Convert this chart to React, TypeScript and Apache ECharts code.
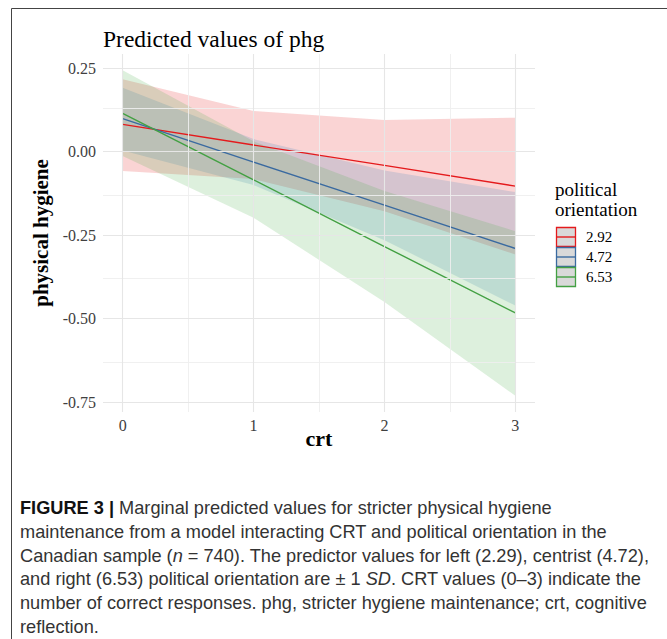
import React, { useEffect, useRef } from "react";
import * as echarts from "echarts";

const crt = [0, 1, 2, 3];
const groupNames = ["2.92", "4.72", "6.53"];
const predicted = [
  [0.082, 0.02, -0.041, -0.103],
  [0.099, -0.031, -0.16, -0.29],
  [0.115, -0.084, -0.284, -0.483],
];
const lowerCI = [
  [-0.058, -0.082, -0.178, -0.308],
  [0.004, -0.1, -0.265, -0.461],
  [-0.013, -0.198, -0.45, -0.731],
];
const upperCI = [
  [0.217, 0.122, 0.095, 0.102],
  [0.192, 0.038, -0.056, -0.121],
  [0.244, 0.031, -0.118, -0.238],
];
const xTicks = [0, 1, 2, 3];
const xMinorTicks = [0.5, 1.5, 2.5];
const yTicks = [0.25, 0, -0.25, -0.5, -0.75];
const yMinorTicks = [0.125, -0.125, -0.375, -0.625];

const titleText = "Predicted values of phg";
const xTitle = "crt";
const yTitle = "physical hygiene";
const legendTitle = ["political", "orientation"];
const captionLines = [
  "{b|FIGURE 3 |} Marginal predicted values for stricter physical hygiene",
  "maintenance from a model interacting CRT and political orientation in the",
  "Canadian sample ({i|n} = 740). The predictor values for left (2.29), centrist (4.72),",
  "and right (6.53) political orientation are ± 1 {i|SD}. CRT values (0–3) indicate the",
  "number of correct responses. phg, stricter hygiene maintenance; crt, cognitive",
  "reflection.",
];

const lineColors = ["#E41A1C", "#3A6AA0", "#43A043"];
const ribbonColors = ["#E41A1C", "#377EB8", "#4DAF4A"];
const ribbonAlpha = 0.19;
const SERIF = "'Liberation Serif', 'Times New Roman', serif";
const SANS = "'Liberation Sans', Arial, sans-serif";

function hexToRgba(hex: string, a: number) {
  const n = parseInt(hex.slice(1), 16);
  return `rgba(${(n >> 16) & 255},${(n >> 8) & 255},${n & 255},${a})`;
}

export default function App() {
  const ref = useRef<HTMLDivElement>(null);
  useEffect(() => {
    if (!ref.current) return;
    const chart = echarts.init(ref.current, undefined, { renderer: "svg" });

    const allLow = Math.min(...lowerCI.flat());
    const allHigh = Math.max(...upperCI.flat());
    const pad = (allHigh - allLow) * 0.05;
    const yMin = allLow - pad;
    const yMax = allHigh + pad;
    const xPad = (crt[crt.length - 1] - crt[0]) * 0.05;

    const majorStyle = { color: "#e6e6e6", width: 1.1, type: "solid" };
    const minorStyle = { color: "#eeeeee", width: 0.9, type: "solid" };

    const ribbons = groupNames.map((name, g) => ({
      type: "custom",
      name: name + " CI",
      coordinateSystem: "cartesian2d",
      silent: true,
      z: 2,
      data: crt.map((x, i) => [x, lowerCI[g][i], upperCI[g][i]]),
      encode: { x: 0, y: [1, 2] },
      renderItem: (params: any, api: any) => {
        if (params.dataIndex !== 0) return { type: "group", children: [] };
        const pts: number[][] = [];
        for (let i = 0; i < crt.length; i++) pts.push(api.coord([crt[i], upperCI[g][i]]));
        for (let i = crt.length - 1; i >= 0; i--) pts.push(api.coord([crt[i], lowerCI[g][i]]));
        return {
          type: "polygon",
          shape: { points: pts },
          style: { fill: hexToRgba(ribbonColors[g], ribbonAlpha), stroke: "none" },
        };
      },
    }));

    const lines = groupNames.map((name, g) => ({
      type: "line",
      name,
      z: 3,
      silent: true,
      showSymbol: false,
      symbol: "none",
      data: crt.map((x, i) => [x, predicted[g][i]]),
      lineStyle: { color: lineColors[g], width: 1.4 },
      itemStyle: { color: lineColors[g] },
    }));

    const gridSeries = {
      type: "line",
      name: "grid",
      z: 1,
      silent: true,
      symbol: "none",
      data: [[0, null]],
      markLine: {
        silent: true,
        symbol: ["none", "none"],
        label: { show: false },
        animation: false,
        data: [
          ...xMinorTicks.map((v) => ({ xAxis: v, lineStyle: minorStyle })),
          ...yMinorTicks.map((v) => ({ yAxis: v, lineStyle: minorStyle })),
          ...xTicks.map((v) => ({ xAxis: v, lineStyle: majorStyle })),
          ...yTicks.map((v) => ({ yAxis: v, lineStyle: majorStyle })),
        ],
      },
    };

    const legendX = 556;
    const legendKeyY = [227, 247, 267];
    const legendGraphics: any[] = [];
    legendTitle.forEach((t, i) => {
      legendGraphics.push({
        type: "text",
        x: 555,
        y: 189 + i * 20,
        style: {
          text: t,
          font: `19px ${SERIF}`,
          fill: "#000",
          verticalAlign: "middle",
        },
      });
    });
    groupNames.forEach((name, g) => {
      const y = legendKeyY[g];
      legendGraphics.push({
        type: "rect",
        shape: { x: legendX + 0.5, y: y + 0.5, width: 19, height: 19 },
        style: { fill: "#d9d9d9", stroke: lineColors[g], lineWidth: 1.3 },
      });
      legendGraphics.push({
        type: "line",
        shape: { x1: legendX + 1, y1: y + 10, x2: legendX + 19, y2: y + 10 },
        style: { stroke: lineColors[g], lineWidth: 1.4 },
      });
      legendGraphics.push({
        type: "text",
        x: 586,
        y: y + 10,
        style: {
          text: name,
          font: `15px ${SERIF}`,
          fill: "#000",
          verticalAlign: "middle",
        },
      });
    });

    const captionGraphics = captionLines.map((t, i) => ({
      type: "text",
      x: 20,
      y: 508 + i * 23.8,
      style: {
        text: t,
        font: `18.2px ${SANS}`,
        fill: "#333",
        verticalAlign: "middle",
        rich: {
          b: { fontWeight: "bold", fill: "#111", fontSize: 18.2, fontFamily: SANS },
          i: { fontStyle: "italic", fill: "#333", fontSize: 18.2, fontFamily: SANS },
        },
      },
    }));

    chart.setOption({
      animation: false,
      backgroundColor: "#fff",
      title: {
        text: titleText,
        left: 103,
        top: 27,
        padding: 0,
        textStyle: { fontFamily: SERIF, fontSize: 23.5, fontWeight: "normal", color: "#000" },
      },
      grid: { left: 103, right: 132, top: 54, bottom: 227, containLabel: false },
      xAxis: {
        type: "value",
        min: crt[0] - xPad,
        max: crt[crt.length - 1] + xPad,
        splitLine: { show: false },
        axisLine: { show: false },
        axisTick: { show: false },
        axisLabel: {
          customValues: xTicks,
          formatter: (v: number) => String(v),
          color: "#404040",
          fontFamily: SERIF,
          fontSize: 16,
          margin: 5,
        },
        name: xTitle,
        nameLocation: "middle",
        nameGap: 15,
        nameMoveOverlap: false,
        nameTextStyle: { fontFamily: SERIF, fontWeight: "bold", fontSize: 22, color: "#000" },
      },
      yAxis: {
        type: "value",
        min: yMin,
        max: yMax,
        splitLine: { show: false },
        axisLine: { show: false },
        axisTick: { show: false },
        axisLabel: {
          customValues: yTicks,
          formatter: (v: number) => v.toFixed(2),
          color: "#404040",
          fontFamily: SERIF,
          fontSize: 16,
          margin: 7,
        },
        name: yTitle,
        nameLocation: "middle",
        nameRotate: 90,
        nameGap: 52,
        nameMoveOverlap: false,
        nameTextStyle: { fontFamily: SERIF, fontWeight: "bold", fontSize: 21, color: "#000" },
      },
      series: [gridSeries, ...ribbons, ...lines],
      graphic: [
        {
          type: "rect",
          silent: true,
          shape: { x: 11.5, y: 8.5, width: 700, height: 700 },
          style: { fill: "none", stroke: "#444", lineWidth: 1 },
        },
        ...legendGraphics,
        ...captionGraphics,
      ],
    });
    return () => chart.dispose();
  }, []);
  return (
    <div
      ref={ref}
      style={{ position: "absolute", left: 0, top: 0, width: 667, height: 639, background: "#fff" }}
    />
  );
}
